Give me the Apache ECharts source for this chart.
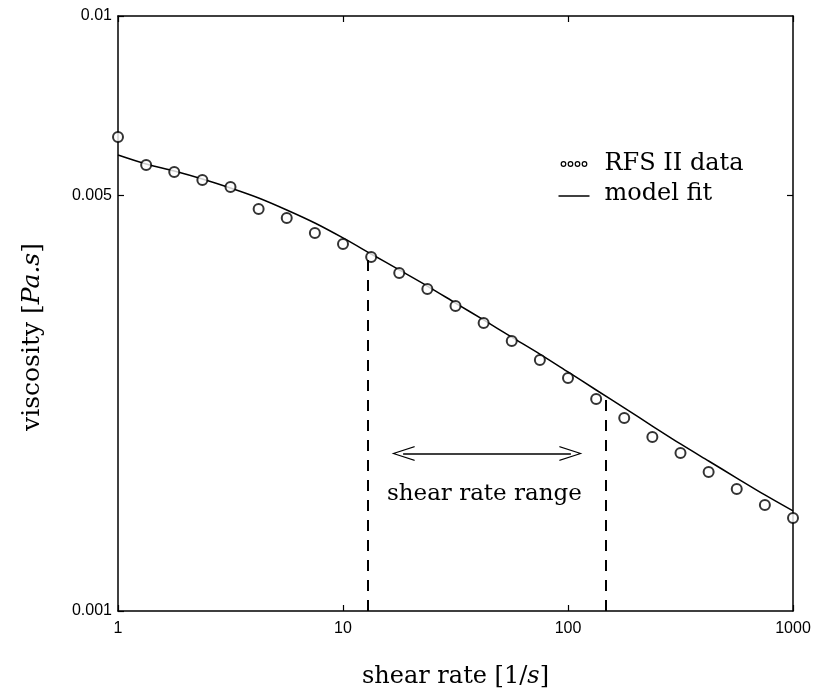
<!DOCTYPE html>
<html>
<head>
<meta charset="utf-8">
<script src="https://cdn.jsdelivr.net/npm/echarts@6/dist/echarts.min.js"></script>
<style>
html, body { margin: 0; padding: 0; background: #fff; }
#main { width: 815px; height: 698px; }
</style>
</head>
<body>
<div id="main"></div>
<script>
// shear rate [1/s], 8 points per decade
var shearRate = [1, 1.334, 1.778, 2.371, 3.162, 4.217, 5.623, 7.499,
    10, 13.34, 17.78, 23.71, 31.62, 42.17, 56.23, 74.99,
    100, 133.4, 177.8, 237.1, 316.2, 421.7, 562.3, 749.9, 1000];
// measured viscosity [Pa.s]
var viscosityData = [0.00626, 0.005617, 0.005467, 0.005301, 0.005159, 0.004738, 0.004576, 0.004318,
    0.004138, 0.003936, 0.0037, 0.003477, 0.003255, 0.003048, 0.002843, 0.002642,
    0.002464, 0.002272, 0.002111, 0.001961, 0.001843, 0.001712, 0.001603, 0.001507, 0.001433];
// model fit [Pa.s]
var viscosityFit = [0.005839, 0.005639, 0.005489, 0.005322, 0.005139, 0.004944, 0.00472, 0.004488,
    0.004236, 0.003981, 0.003743, 0.003517, 0.003293, 0.003084, 0.002886, 0.002703,
    0.002522, 0.002352, 0.002194, 0.002046, 0.001909, 0.001787, 0.001673, 0.001567, 0.001473];

var rangeBounds = [12.9, 147.5];     // dashed verticals
var rangeTops = [0.00395, 0.00231];
var arrowEnds = [18.5, 103];
var arrowLevel = 0.00184;
var rangeTextPos = [42.5, 0.00157];
var yExtraTicks = [0.005];

var serif = '"DejaVu Serif", "Liberation Serif", serif';
var sans = '"Liberation Sans", Arial, sans-serif';

var chevron = 'path://M0,23 L7.5,0 L15,23 L13.8,23 L7.5,3.5 L1.2,23 Z';

var myChart = echarts.init(document.getElementById('main'));

var fmt = function (v) { return String(+v.toPrecision(3)); };
var logTicks = yExtraTicks.map(function (v) { return Math.log10(v); });

var option = {
    backgroundColor: '#fff',
    animation: false,
    grid: { left: 118, right: 22, top: 16, bottom: 87 },
    xAxis: [{
        type: 'log', logBase: 10, min: 1, max: 1000,
        name: '{n|shear rate [1/}{i|s}{n|]}',
        nameLocation: 'middle', nameGap: 54,
        nameTextStyle: {
            rich: {
                n: { fontFamily: serif, fontSize: 24, color: '#000' },
                i: { fontFamily: serif, fontSize: 24, fontStyle: 'italic', color: '#000' }
            }
        },
        axisLine: { lineStyle: { color: '#000', width: 1.5 } },
        axisTick: { inside: true, length: 6, lineStyle: { color: '#000', width: 1.2 } },
        axisLabel: { color: '#000', fontFamily: sans, fontSize: 16, margin: 10, formatter: fmt },
        splitLine: { show: false },
        minorTick: { show: false }
    }, {
        type: 'log', logBase: 10, min: 1, max: 1000, position: 'top',
        axisLine: { lineStyle: { color: '#000', width: 1.5 } },
        axisTick: { inside: true, length: 6, lineStyle: { color: '#000', width: 1.2 } },
        axisLabel: { show: false },
        splitLine: { show: false }
    }],
    yAxis: [{
        type: 'log', logBase: 10, min: 0.001, max: 0.01, position: 'left',
        axisLine: { lineStyle: { color: '#000', width: 1.5 } },
        axisTick: { inside: true, length: 6, lineStyle: { color: '#000', width: 1.2 } },
        axisLabel: { color: '#000', fontFamily: sans, fontSize: 16, margin: 6, formatter: fmt },
        splitLine: { show: false }
    }, {
        type: 'value', min: -3, max: -2, position: 'left', offset: 0,
        axisLine: { show: false },
        axisTick: { inside: true, length: 6, customValues: logTicks, lineStyle: { color: '#000', width: 1.2 } },
        axisLabel: {
            color: '#000', fontFamily: sans, fontSize: 16, margin: 6, customValues: logTicks,
            formatter: function (v) { return fmt(Math.pow(10, v)); }
        },
        splitLine: { show: false }
    }, {
        type: 'value', min: -3, max: -2, position: 'right', offset: 0,
        axisLine: { show: true, lineStyle: { color: '#000', width: 1.5 } },
        axisTick: { inside: true, length: 6, customValues: logTicks, lineStyle: { color: '#000', width: 1.2 } },
        axisLabel: { show: false },
        splitLine: { show: false }
    }],
    series: [{
        name: 'model fit',
        type: 'line',
        data: shearRate.map(function (x, i) { return [x, viscosityFit[i]]; }),
        showSymbol: false,
        smooth: 0.3,
        lineStyle: { color: '#000', width: 1.5 },
        z: 3,
        markLine: {
            silent: true,
            symbol: ['none', 'none'],
            label: { show: false },
            data: [
                [{ coord: [rangeBounds[0], 0.001], lineStyle: { type: [11, 9], color: '#000', width: 2 } },
                 { coord: [rangeBounds[0], rangeTops[0]] }],
                [{ coord: [rangeBounds[1], 0.001], lineStyle: { type: [11, 9], color: '#000', width: 2 } },
                 { coord: [rangeBounds[1], rangeTops[1]] }],
                [{ coord: [arrowEnds[0], arrowLevel], symbol: chevron, symbolSize: [15, 23],
                   lineStyle: { type: 'solid', color: '#000', width: 1.5 } },
                 { coord: [arrowEnds[1], arrowLevel], symbol: chevron, symbolSize: [15, 23] }]
            ]
        },
        markPoint: {
            silent: true,
            symbol: 'circle', symbolSize: 0,
            data: [{ coord: rangeTextPos, value: 'shear rate range' }],
            label: {
                show: true, position: 'inside', color: '#000',
                fontFamily: serif, fontSize: 23,
                formatter: '{c}'
            }
        }
    }, {
        name: 'RFS II data',
        type: 'scatter',
        data: shearRate.map(function (x, i) { return [x, viscosityData[i]]; }),
        symbol: 'emptyCircle',
        symbolSize: 10,
        itemStyle: { color: '#000', borderWidth: 1.3 },
        z: 4
    }],
    graphic: [{
        type: 'group', left: 556, top: 152,
        children: [
            { type: 'circle', shape: { cx: 8, cy: 20, r: 2.3 }, style: { fill: '#fff', stroke: '#000', lineWidth: 1.2 } },
            { type: 'circle', shape: { cx: 15, cy: 20, r: 2.3 }, style: { fill: '#fff', stroke: '#000', lineWidth: 1.2 } },
            { type: 'circle', shape: { cx: 22, cy: 20, r: 2.3 }, style: { fill: '#fff', stroke: '#000', lineWidth: 1.2 } },
            { type: 'circle', shape: { cx: 29, cy: 20, r: 2.3 }, style: { fill: '#fff', stroke: '#000', lineWidth: 1.2 } },
            { type: 'text', x: 49, y: 20, style: { text: 'RFS II data', fill: '#000', font: '24px ' + serif, textVerticalAlign: 'middle' } },
            { type: 'line', shape: { x1: 3, y1: 52, x2: 34, y2: 52 }, style: { stroke: '#000', lineWidth: 1.5 } },
            { type: 'text', x: 49, y: 50, style: { text: 'model fit', fill: '#000', font: '24px ' + serif, textVerticalAlign: 'middle' } }
        ]
    }, {
        type: 'text', x: 32, y: 337, rotation: Math.PI / 2,
        style: {
            text: '{n|viscosity [}{i|Pa.s}{n|]}',
            align: 'center', verticalAlign: 'middle',
            rich: {
                n: { fontFamily: serif, fontSize: 25, fill: '#000' },
                i: { fontFamily: serif, fontSize: 25, fontStyle: 'italic', fill: '#000' }
            }
        }
    }]
};

myChart.setOption(option);
</script>
</body>
</html>
